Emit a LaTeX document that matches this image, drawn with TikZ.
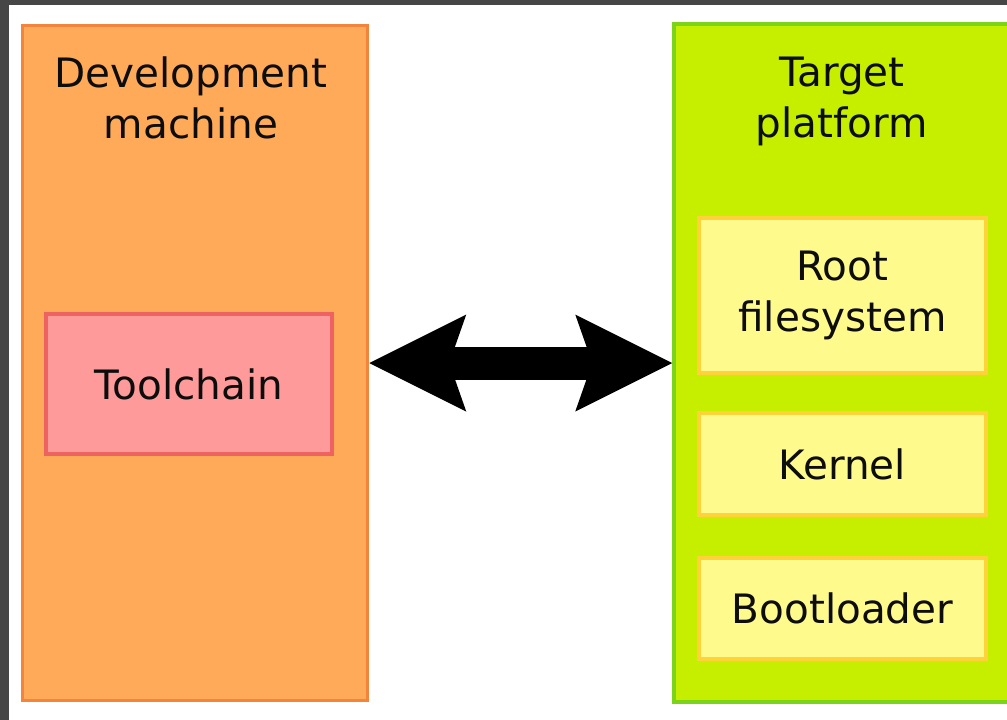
\documentclass[tikz,border=0pt]{standalone}
\usepackage{fontspec}
\setmainfont{DejaVu Sans}
\usetikzlibrary{arrows.meta}
\definecolor{frame}{HTML}{464646}
\definecolor{orfill}{HTML}{FFAA58}
\definecolor{ordraw}{HTML}{F3843C}
\definecolor{tcfill}{HTML}{FF9A9A}
\definecolor{tcdraw}{HTML}{EE6262}
\definecolor{grfill}{HTML}{C6EF00}
\definecolor{grdraw}{HTML}{7CD41A}
\definecolor{ylfill}{HTML}{FFFA8C}
\definecolor{yldraw}{HTML}{FFD23A}
\definecolor{txt}{HTML}{0D0D0D}
\begin{document}
\begin{tikzpicture}[x=1pt,y=-1pt,
  lbl/.style={font=\fontsize{40.5}{51}\selectfont, text=txt, align=center, inner sep=0pt},
  bigbox/.style={rectangle, inner sep=0pt, line width=3.5pt},
  devbox/.style={bigbox, fill=orfill, draw=ordraw},
  tgtbox/.style={bigbox, fill=grfill, draw=grdraw},
  toolbox/.style={bigbox, fill=tcfill, draw=tcdraw, lbl, minimum width=286pt, minimum height=140pt},
  partbox/.style={bigbox, fill=ylfill, draw=yldraw, lbl, minimum width=287pt},
  bigarrow/.style={line width=33pt, draw=black,
    {Stealth[length=97pt, width=97pt, inset=17pt, line width=0pt]}-{Stealth[length=97pt, width=97pt, inset=17pt, line width=0pt]}}
]
\useasboundingbox (0,0) rectangle (1007,720);
\fill[white] (0,0) rectangle (1007,720);
\fill[frame] (0,0) rectangle (1007,5);
\fill[frame] (0,0) rectangle (8.5,720);

\node[devbox, minimum width=345pt, minimum height=675pt] (dev) at (195,363) {};
\node[tgtbox, minimum width=336pt, minimum height=678pt] (tgt) at (842,363) {};

\node[lbl] (devlbl) at (191,98) {Development\\machine};
\node[lbl] (tgtlbl) at (842,101) {Target\\platform};

\node[toolbox] (tool) at (189,384) {Toolchain};

\node[partbox, minimum height=155pt] (root) at (842.5,295.5) {\raisebox{0pt}{}Root\\filesystem};
\node[partbox, minimum height=102pt] (kern) at (842.5,464) {Kernel};
\node[partbox, minimum height=101pt] (boot) at (842.5,608.5) {Bootloader};

\draw[bigarrow] (dev.east) -- (tgt.west);
\end{tikzpicture}
\end{document}
